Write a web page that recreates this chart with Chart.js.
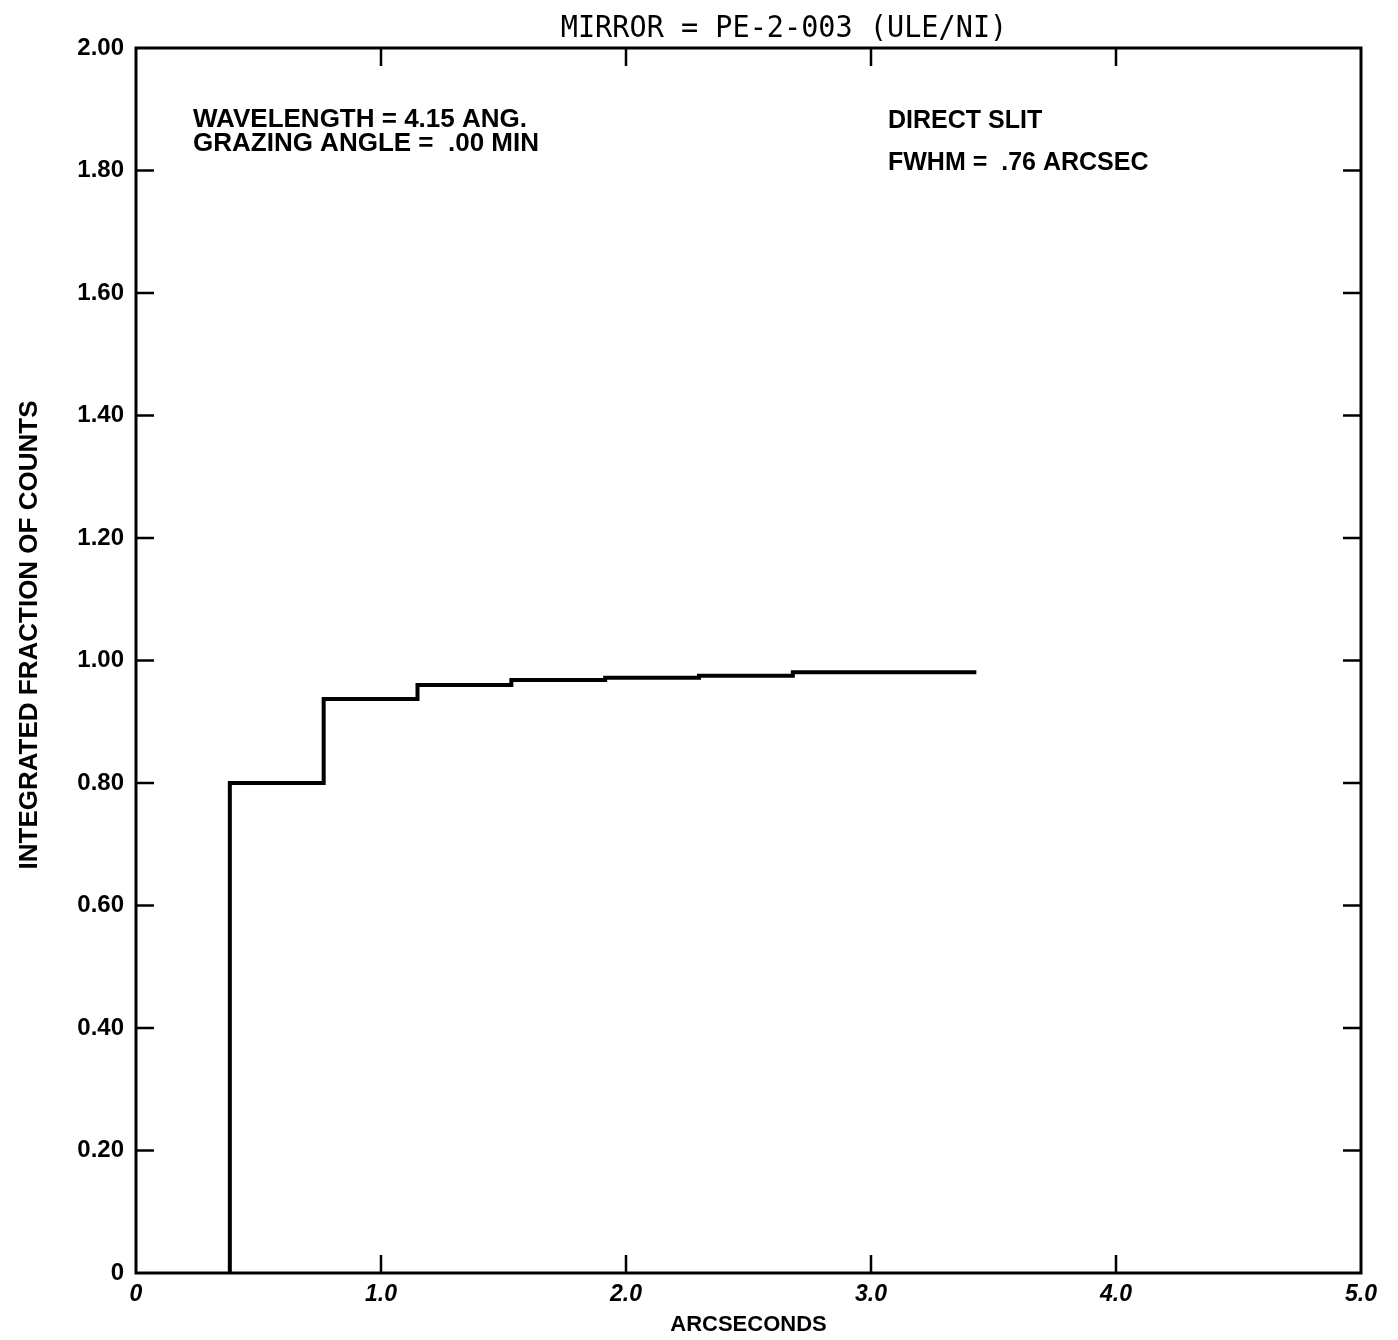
<!DOCTYPE html>
<html><head><meta charset="utf-8">
<script src="https://cdn.jsdelivr.net/npm/chart.js@4"></script>
<style>html,body{margin:0;padding:0;background:#fff}#wrap{width:1398px;height:1340px}</style>
</head><body><div id="wrap"><canvas id="c" width="1398" height="1340"></canvas></div>
<script>
// Data (stepped cumulative curve)
const arcseconds = [0.383, 0.383, 0.766, 1.149, 1.532, 1.915, 2.298, 2.681, 3.43];
const fraction   = [0.000, 0.800, 0.937, 0.960, 0.968, 0.972, 0.975, 0.981, 0.981];
const xTickValues = [0, 1, 2, 3, 4, 5];
const xTickLabels = ['0', '1.0', '2.0', '3.0', '4.0', '5.0'];
const yTickLabels = ['0', '0.20', '0.40', '0.60', '0.80', '1.00', '1.20', '1.40', '1.60', '1.80', '2.00'];
const titleText = 'MIRROR = PE-2-003 (ULE/NI)';
const noteLeft = ['WAVELENGTH = 4.15 ANG.', 'GRAZING ANGLE =  .00 MIN'];
const noteRight = ['DIRECT SLIT', 'FWHM =  .76 ARCSEC'];
const xTitle = 'ARCSECONDS';
const yTitle = 'INTEGRATED FRACTION OF COUNTS';

const points = arcseconds.map((x, i) => ({x, y: fraction[i]}));

const frame = {
  id: 'frame',
  afterDraw(chart) {
    const {ctx, chartArea: a, scales: {x, y}} = chart;
    ctx.save();
    ctx.strokeStyle = '#000';
    ctx.lineWidth = 3;
    ctx.strokeRect(a.left, a.top, a.right - a.left, a.bottom - a.top);
    ctx.lineWidth = 2.5;
    const L = 18;
    ctx.beginPath();
    yTickLabels.forEach((_, i) => {
      const v = i * 0.2;
      if (i === 0 || i === yTickLabels.length - 1) return;
      const py = y.getPixelForValue(v);
      ctx.moveTo(a.left, py); ctx.lineTo(a.left + L, py);
      ctx.moveTo(a.right, py); ctx.lineTo(a.right - L, py);
    });
    xTickValues.forEach(v => {
      if (v === 0 || v === 5) return;
      const px = x.getPixelForValue(v);
      ctx.moveTo(px, a.top); ctx.lineTo(px, a.top + L);
      ctx.moveTo(px, a.bottom); ctx.lineTo(px, a.bottom - L);
    });
    ctx.stroke();

    ctx.fillStyle = '#000';
    // title
    ctx.save();
    ctx.font = '31px "DejaVu Sans Mono"';
    ctx.textBaseline = 'alphabetic';
    ctx.textAlign = 'center';
    ctx.translate(784, 37);
    ctx.scale(0.92, 1);
    ctx.fillText(titleText, 0, 0);
    ctx.restore();

    // notes
    ctx.font = 'bold 26px "Liberation Sans"';
    ctx.textAlign = 'left';
    ctx.textBaseline = 'middle';
    ctx.fillText(noteLeft[0], 193, 120);
    ctx.fillText(noteLeft[1], 193, 144);
    ctx.font = 'bold 25px "Liberation Sans"';
    ctx.fillText(noteRight[0], 888, 121);
    ctx.fillText(noteRight[1], 888, 163);

    // y title
    ctx.save();
    ctx.font = 'bold 26px "Liberation Sans"';
    ctx.textAlign = 'center';
    ctx.textBaseline = 'middle';
    ctx.translate(30, 635);
    ctx.rotate(-Math.PI / 2);
    ctx.fillText(yTitle, 0, 0);
    ctx.restore();
    ctx.restore();
  }
};

new Chart(document.getElementById('c'), {
  type: 'line',
  data: {
    datasets: [{
      data: points,
      borderColor: '#000',
      borderWidth: 4,
      pointRadius: 0,
      stepped: true,
      fill: false
    }]
  },
  options: {
    responsive: false,
    animation: false,
    devicePixelRatio: 1,
    layout: {padding: {top: 48, right: 37, left: 0, bottom: 0}},
    plugins: {legend: {display: false}, tooltip: {enabled: false}},
    scales: {
      x: {
        type: 'linear', min: 0, max: 5,
        border: {display: false},
        grid: {display: false, drawTicks: false},
        afterFit: s => { s.height = 67; },
        afterBuildTicks: s => { s.ticks = xTickValues.map(v => ({value: v})); },
        ticks: {
          padding: 8,
          color: '#000',
          maxRotation: 0,
          font: {family: '"Liberation Sans"', size: 23, weight: 'bold', style: 'italic'},
          callback: (v) => xTickLabels[xTickValues.indexOf(v)]
        },
        title: {
          display: true, text: xTitle, color: '#000',
          font: {family: '"Liberation Sans"', size: 22, weight: 'bold'},
          padding: {top: 0, bottom: 2}
        }
      },
      y: {
        type: 'linear', min: 0, max: 2,
        border: {display: false},
        grid: {display: false, drawTicks: false},
        afterFit: s => { s.width = 136; },
        afterBuildTicks: s => { s.ticks = yTickLabels.map((_, i) => ({value: Math.round(i * 0.2 * 10) / 10})); },
        ticks: {
          padding: 12,
          color: '#000',
          font: {family: '"Liberation Sans"', size: 24, weight: 'bold'},
          callback: (v) => yTickLabels[Math.round(v / 0.2)]
        }
      }
    }
  },
  plugins: [frame]
});
</script>
</body></html>
